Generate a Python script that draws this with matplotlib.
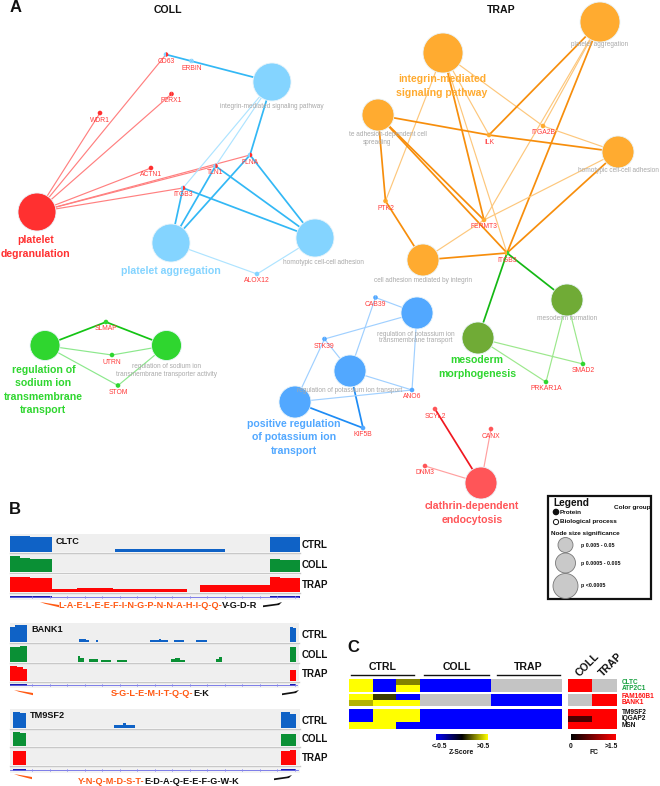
import numpy as np
import matplotlib
matplotlib.use('Agg')
import matplotlib.pyplot as plt
from matplotlib.colors import LinearSegmentedColormap
from matplotlib.patches import Circle, Rectangle, Wedge, Polygon

plt.rcParams['font.family'] = ['Liberation Sans', 'DejaVu Sans']

# Network A, terms: name -> x, y, radius, colour
RED = '#ff3030'
SKY = '#84d4ff'
ORANGE = '#ffab30'
OLIVE = '#70ab36'
LIME = '#2fd62f'
BLUE = '#52a8ff'
CORAL = '#ff5558'

terms = {
    'degran': (37, 212, 19, RED), 'coll_int': (272, 82, 19, SKY),
    'coll_agg': (171, 243, 19, SKY), 'coll_hom': (315, 238, 19, SKY),
    'trap_int': (443, 53, 20, ORANGE), 'trap_agg': (600, 22, 20, ORANGE),
    'trap_foc': (378, 115, 16, ORANGE), 'trap_hom': (618, 152, 16, ORANGE),
    'trap_cam': (423, 260, 16, ORANGE), 'meso_form': (567, 300, 16, OLIVE),
    'meso_morph': (478, 338, 16, OLIVE), 'na_a': (45, 345.5, 15, LIME),
    'na_b': (166.5, 345.5, 15, LIME), 'k_tm': (417, 313, 16, BLUE),
    'k_tr': (350, 371, 16, BLUE), 'k_pos': (295, 402, 16, BLUE),
    'clath': (481, 483, 16, CORAL),
}

# proteins: label, x, y, left colour, right colour
proteins = {
    'CD63': (166, 54.5, SKY, RED), 'ERBIN': (191.5, 61, SKY, SKY),
    'WDR1': (100, 113, RED, RED), 'P2RX1': (171.5, 94, RED, RED),
    'ACTN1': (151, 168, RED, RED), 'FLNA': (250, 155, SKY, RED),
    'TLN1': (215.5, 166, SKY, RED), 'ITGB3': (183, 188, SKY, RED),
    'ALOX12': (257, 274, SKY, SKY), 'ILK': (489, 135, ORANGE, ORANGE),
    'ITGA2B': (543, 126, ORANGE, ORANGE), 'PTK2': (385.5, 201, ORANGE, ORANGE),
    'FERMT3': (484, 220, ORANGE, ORANGE), 'ITGB3 ': (507, 253, ORANGE, LIME),
    'SMAD2': (583, 364, LIME, LIME), 'PRKAR1A': (546, 382, LIME, LIME),
    'SLMAP': (106, 322, LIME, LIME), 'UTRN': (112, 355, LIME, LIME),
    'STOM': (118, 385.5, LIME, LIME), 'CAB39': (375.5, 297.5, BLUE, BLUE),
    'STK39': (324.5, 339, BLUE, BLUE), 'ANO6': (412, 390, BLUE, BLUE),
    'KIF5B': (363, 428, BLUE, BLUE), 'SCYL2': (435, 409, CORAL, CORAL),
    'CANX': (491, 429, CORAL, CORAL), 'DNM3': (425, 466, CORAL, CORAL),
}

# edges: term, protein, strong?
edges = [
    ('degran', 'CD63', 0), ('degran', 'WDR1', 0), ('degran', 'P2RX1', 0),
    ('degran', 'ACTN1', 0), ('degran', 'FLNA', 0), ('degran', 'TLN1', 0),
    ('degran', 'ITGB3', 0),
    ('coll_int', 'CD63', 1), ('coll_int', 'FLNA', 1), ('coll_int', 'TLN1', 0),
    ('coll_int', 'ITGB3', 0), ('coll_agg', 'ITGB3', 1), ('coll_agg', 'TLN1', 1),
    ('coll_agg', 'FLNA', 1), ('coll_agg', 'ALOX12', 0), ('coll_hom', 'ALOX12', 0),
    ('coll_hom', 'ITGB3', 1), ('coll_hom', 'TLN1', 1), ('coll_hom', 'FLNA', 1),
    ('trap_int', 'FERMT3', 1), ('trap_int', 'ILK', 0), ('trap_int', 'ITGB3 ', 0),
    ('trap_int', 'ITGA2B', 0), ('trap_int', 'PTK2', 0), ('trap_agg', 'ILK', 1),
    ('trap_agg', 'ITGA2B', 0), ('trap_agg', 'FERMT3', 0), ('trap_agg', 'ITGB3 ', 1),
    ('trap_foc', 'ILK', 1), ('trap_foc', 'PTK2', 1), ('trap_foc', 'FERMT3', 1),
    ('trap_foc', 'ITGB3 ', 1), ('trap_hom', 'ILK', 1), ('trap_hom', 'ITGA2B', 0),
    ('trap_hom', 'FERMT3', 0), ('trap_hom', 'ITGB3 ', 1), ('trap_cam', 'PTK2', 1),
    ('trap_cam', 'FERMT3', 0), ('trap_cam', 'ITGB3 ', 1),
    ('meso_morph', 'ITGB3 ', 1), ('meso_form', 'ITGB3 ', 1),
    ('meso_morph', 'SMAD2', 0), ('meso_morph', 'PRKAR1A', 0),
    ('meso_form', 'SMAD2', 0), ('meso_form', 'PRKAR1A', 0),
    ('na_a', 'SLMAP', 1), ('na_b', 'SLMAP', 1), ('na_a', 'UTRN', 0),
    ('na_b', 'UTRN', 0), ('na_a', 'STOM', 0), ('na_b', 'STOM', 0),
    ('k_tm', 'CAB39', 0), ('k_tm', 'STK39', 0), ('k_tm', 'ANO6', 0),
    ('k_tr', 'CAB39', 0), ('k_tr', 'STK39', 0), ('k_tr', 'ANO6', 0),
    ('k_tr', 'KIF5B', 1), ('k_pos', 'STK39', 0), ('k_pos', 'ANO6', 0),
    ('k_pos', 'KIF5B', 1), ('clath', 'SCYL2', 1), ('clath', 'CANX', 0),
    ('clath', 'DNM3', 0),
]

edge_colours = {
    RED: ('#ff8080', '#ff8080'), SKY: ('#33b8f5', '#aee4ff'),
    ORANGE: ('#f78e0c', '#fdc77c'), OLIVE: ('#14b814', '#9ce88c'),
    LIME: ('#14c414', '#8ce88c'), BLUE: ('#1e8cf5', '#a0d0ff'),
    CORAL: ('#f01820', '#ffa0a0'),
}

grey_labels = [
    ('integrin-mediated signaling pathway', 272, 107),
    ('homotypic cell-cell adhesion', 323, 262),
    ('platelet aggregation', 600, 45),
    ('te adhesion-dependent cell', 388, 135),
    ('spreading', 377, 143),
    ('homotypic cell-cell adhesion', 618, 171),
    ('cell adhesion mediated by integrin', 423, 280),
    ('mesoderm formation', 567, 319),
    ('regulation of potassium ion', 416, 334),
    ('transmembrane transport', 416, 341),
    ('regulation of potassium ion transport', 350, 391),
    ('regulation of sodium ion', 166, 366.5),
    ('transmembrane transporter activity', 166, 374.5),
]

big_labels = [
    ('platelet\ndegranulation', 35.5, 247, RED),
    ('platelet aggregation', 171, 271.5, SKY),
    ('regulation of\nsodium ion\ntransmembrane\ntransport', 43.5, 390, LIME),
    ('positive regulation\nof potassium ion\ntransport', 294, 437.5, BLUE),
    ('integrin-mediated\nsignaling pathway', 442, 86, ORANGE),
    ('mesoderm\nmorphogenesis', 477, 367, LIME),
    ('clathrin-dependent\nendocytosis', 472, 513, CORAL),
]

# Panel B, coverage as (start, end, height)
cltc_ctrl = [(10, 30, .88), (30, 52, .85), (115, 225, .16), (270, 285, .85), (285, 300, .82)]
cltc_coll = [(10, 20, .88), (20, 30, .78), (30, 52, .72), (270, 280, .75), (280, 300, .68)]
cltc_trap = [(10, 30, .88), (30, 52, .85), (52, 77, .16), (77, 113, .25), (113, 187, .16),
             (200, 270, .39), (270, 280, .88), (280, 300, .8)]
bank_ctrl = [(10, 15, .8), (15, 27, .88), (79, 86, .17), (86, 89, .1), (96, 98, .12),
             (150, 159, .1), (159, 161, .17), (161, 168, .1), (174, 184, .1), (196, 207, .1),
             (290, 293, .8), (293, 296, .72)]
bank_coll = [(10, 20, .8), (20, 27, .85), (78, 80, .3), (80, 84, .2), (89, 98, .18), (101, 111, .12),
             (117, 127, .12), (171, 175, .15), (175, 180, .2), (180, 185, .13), (216, 219, .15),
             (219, 222, .24), (290, 296, .8)]
bank_trap = [(10, 17, .85), (17, 23, .8), (23, 27, .65), (290, 296, .6)]
tm9_ctrl = [(13, 20, .85), (20, 26, .78), (114, 123, .15), (123, 126, .25), (126, 135, .15),
            (281, 290, .82), (290, 296, .72)]
tm9_coll = [(13, 20, .85), (20, 26, .75), (281, 296, .7)]
tm9_trap = [(13, 26, .8), (281, 290, .8), (290, 296, .86)]

# Panel C, z-scores per row, nan = not quantified
z_group1 = [[.5, -.5, .25, -.5, -.5, -.5, np.nan, np.nan, np.nan],
            [.5, -.5, .5, -.5, -.5, -.5, np.nan, np.nan, np.nan]]
z_group2 = [[.5, .12, -.5, np.nan, np.nan, np.nan, -.5, -.5, -.5],
            [.35, .5, .5, np.nan, np.nan, np.nan, -.5, -.5, -.5]]
z_group3 = [[-.5, .5, .5, -.5, -.5, -.5, -.5, -.5, -.5],
            [-.5, .5, .5, -.5, -.5, -.5, -.5, -.5, -.5],
            [.5, .5, -.5, -.5, -.5, -.5, -.5, -.5, -.5]]
fc_group1 = [[1.5, np.nan], [1.5, np.nan]]
fc_group2 = [[np.nan, 1.5], [np.nan, 1.5]]
fc_group3 = [[1.5, 1.5], [.45, 1.5], [1.5, 1.5]]
genes_group1 = ['CLTC', 'ATP2C1']
genes_group2 = ['FAM160B1', 'BANK1']
genes_group3 = ['TM9SF2', 'IQGAP2', 'MSN']


def half_arrow(ax, x0, x1, y, colour, left):
    """Primer marker below a track"""
    if left:
        pts = [(x0, y - 2), (x1, y + 1), (x1, y + 3.2), (x0 + 5, y - 0.2)]
    else:
        pts = [(x0, y + 3.2), (x0, y + 1.4), (x1 - 5, y - 0.4), (x1, y - 2), (x1 - 3, y + 1)]
    ax.add_patch(Polygon(pts, closed=True, color=colour, lw=0))


def track_panel(ax, x0, x1, rows, tracks, gene_y, exons, label, label_x, label_y, row_label_x):
    colours = ['#0f62c6', '#0a9035', '#ff0505']
    names = ['CTRL', 'COLL', 'TRAP']
    for (top, base), segs, colour, name in zip(rows, tracks, colours, names):
        ax.add_patch(Rectangle((x0, top), x1 - x0, base - top, color='#efefef', lw=0))
        ax.plot([x0, x1], [base + .5, base + .5], color='#c8c8c8', lw=1)
        for start, end, h in segs:
            ax.fill_between([start, end], base, base - h * (base - top), color=colour, lw=0)
        ax.text(row_label_x, (top + base) / 2 + 2, name, fontsize=7, fontweight='bold',
                ha='left', va='center', color='#111111')
    ax.add_patch(Rectangle((x0, gene_y - 3), x1 - x0, 6, color='#f3f3f3', lw=0))
    ax.plot([x0, x1 - 2], [gene_y, gene_y], color='#6a6ae6', lw=.6)
    for tx in np.arange(x0 + 22, x1 - 2, 17.5):
        ax.plot([tx, tx], [gene_y - 1, gene_y + 1], color='#8a8aec', lw=.5)
    for a, b in exons:
        ax.add_patch(Rectangle((a, gene_y - 1.2), b - a, 2.6, color='#1a1ab0', lw=0))
    ax.text(label_x, label_y, label, fontsize=6.6, fontweight='bold', va='center', color='#111111')


def sequence(ax, x, y, orange, black):
    ax.text(x, y, orange, color='#ff5a14', fontsize=6.6, fontweight='bold', ha='right', va='center')
    ax.text(x, y, black, color='#111111', fontsize=6.6, fontweight='bold', ha='left', va='center')


def main():
    fig = plt.figure(figsize=(6.6, 7.86), dpi=100)
    ax = fig.add_axes([0, 0, 1, 1])

    # panel A
    for term, protein, strong in edges:
        tx, ty, _, colour = terms[term]
        px, py = proteins[protein][:2]
        strong_col, light_col = edge_colours[colour]
        ax.plot([tx, px], [ty, py], color=strong_col if strong else light_col,
                lw=1.25 if strong else .85, solid_capstyle='round', zorder=1)
    for x, y, r, colour in terms.values():
        ax.add_patch(Circle((x, y), r, facecolor=colour, edgecolor='#e8f4fa', lw=.6, zorder=2))
    for name, (x, y, left, right) in proteins.items():
        r = 2.3
        ax.add_patch(Wedge((x, y), r, 90, 270, color=left, lw=0, zorder=3))
        ax.add_patch(Wedge((x, y), r, 270, 90, color=right, lw=0, zorder=3))
        ax.text(x, y + 7, name.strip(), color='#ff3a3a', fontsize=4.9, ha='center', va='center', zorder=5)
    for text, x, y in grey_labels:
        ax.text(x, y, text, color='#a9a9a9', fontsize=4.7, ha='center', va='center', zorder=4)
    for text, x, y, colour in big_labels:
        ax.text(x, y, text, color=colour, fontsize=7.6, fontweight='bold', ha='center', va='center',
                linespacing=1.42, zorder=5)

    ax.text(16, 8, 'A', fontsize=12, fontweight='bold', ha='center', va='center', color='#111111')
    ax.text(168, 10, 'COLL', fontsize=7.6, fontweight='bold', ha='center', va='center', color='#111111')
    ax.text(501, 10, 'TRAP', fontsize=7.6, fontweight='bold', ha='center', va='center', color='#111111')

    # panel B
    ax.text(15, 510, 'B', fontsize=12, fontweight='bold', ha='center', va='center', color='#111111')
    track_panel(ax, 10, 300, [(534, 552), (554, 572), (575, 592)], [cltc_ctrl, cltc_coll, cltc_trap],
                597, [(10, 52), (270, 300)], 'CLTC', 56, 541, 302)
    half_arrow(ax, 40, 59, 604, '#ff5a14', True)
    half_arrow(ax, 263, 282, 604, '#111111', False)
    sequence(ax, 222, 605, 'L-A-E-L-E-E-F-I-N-G-P-N-N-A-H-I-Q-Q-', 'V-G-D-R')

    track_panel(ax, 10, 299, [(623, 642), (643, 662), (663, 681)], [bank_ctrl, bank_coll, bank_trap],
                685, [(10, 27), (290, 296)], 'BANK1', 31, 630, 302)
    half_arrow(ax, 14, 33, 692, '#ff5a14', True)
    half_arrow(ax, 282, 299, 692, '#111111', False)
    sequence(ax, 193, 694, 'S-G-L-E-M-I-T-Q-Q-', 'E-K')

    track_panel(ax, 10, 300, [(709, 728), (729, 746), (747, 765)], [tm9_ctrl, tm9_coll, tm9_trap],
                770, [(13, 26), (281, 296)], 'TM9SF2', 30, 716, 302)
    half_arrow(ax, 14, 32, 776, '#ff5a14', True)
    half_arrow(ax, 274, 292, 777, '#111111', False)
    sequence(ax, 144, 781, 'Y-N-Q-M-D-S-T-', 'E-D-A-Q-E-E-F-G-W-K')

    # legend
    ax.add_patch(Rectangle((548, 496), 103, 103, facecolor='white', edgecolor='#111111', lw=1.6))
    ax.text(553, 503, 'Legend', fontsize=7.3, fontweight='bold', va='center', color='#111111')
    ax.add_patch(Circle((556, 512), 2.6, color='#111111'))
    ax.text(560, 512, 'Protein', fontsize=4.6, fontweight='bold', va='center', color='#111111')
    ax.add_patch(Circle((556, 522), 2.6, facecolor='white', edgecolor='#111111', lw=.7))
    ax.text(560, 522, 'Biological process', fontsize=4.6, fontweight='bold', va='center', color='#111111')
    ax.text(551, 533, 'Node size significance', fontsize=4.6, fontweight='bold', va='center', color='#111111')
    ax.text(651, 508, 'Color group', fontsize=4.6, fontweight='bold', ha='right', va='center', color='#111111')
    for y, r, text in [(545, 7.5, 'p 0.005 - 0.05'), (563, 10, 'p 0.0005 - 0.005'), (586, 12.5, 'p <0.0005')]:
        ax.add_patch(Circle((565.5, y), r, facecolor='#c9c9c9', edgecolor='#777777', lw=.6))
        ax.text(581, y, text, fontsize=3.9, fontweight='bold', va='center', color='#111111')
    rainbow = LinearSegmentedColormap.from_list(
        'groups', ['#ff3020', '#ffa020', '#c8d020', '#40c040', '#10d8e0', '#2090ff', '#5050e0', '#e030e0', '#ff3080'])
    ax.imshow(np.linspace(0, 1, 128)[:, None], cmap=rainbow, extent=(629, 637, 595, 513), aspect='auto')

    # panel C
    ax.text(353, 648, 'C', fontsize=12, fontweight='bold', ha='center', va='center', color='#111111')
    z_cmap = LinearSegmentedColormap.from_list('z', ['#0000ff', '#000000', '#ffff00'])
    z_cmap.set_bad('#c4c4c4')
    fc_cmap = LinearSegmentedColormap.from_list('fc', ['#000000', '#ff0000'])
    fc_cmap.set_bad('#c4c4c4')
    blocks = [(679, 692, z_group1, fc_group1, genes_group1, '#18a040'),
              (694, 706, z_group2, fc_group2, genes_group2, '#ff1010'),
              (709, 729, z_group3, fc_group3, genes_group3, '#111111')]
    for top, bottom, zs, fcs, genes, colour in blocks:
        ax.imshow(np.array(zs), cmap=z_cmap, vmin=-.5, vmax=.5, extent=(349, 562, bottom, top),
                  aspect='auto', interpolation='nearest')
        ax.imshow(np.array(fcs), cmap=fc_cmap, vmin=0, vmax=1.5, extent=(568, 617, bottom, top),
                  aspect='auto', interpolation='nearest')
        step = (bottom - top) / len(genes)
        for i, gene in enumerate(genes):
            ax.text(622, top + step * (i + .5), gene, color=colour, fontsize=4.7, fontweight='bold', va='center')

    for name, a, b in [('CTRL', 351, 414), ('COLL', 424, 489), ('TRAP', 497, 560)]:
        ax.plot([a, b], [675, 675], color='#111111', lw=1)
        ax.text((a + b) / 2, 667, name, fontsize=7.6, fontweight='bold', ha='center', va='center', color='#111111')
    ax.text(588, 665, 'COLL', fontsize=7.6, fontweight='bold', rotation=45, ha='center', va='center', color='#111111')
    ax.text(611, 665, 'TRAP', fontsize=7.6, fontweight='bold', rotation=45, ha='center', va='center', color='#111111')

    ax.imshow(np.linspace(-.5, .5, 128)[None, :], cmap=z_cmap, extent=(436, 488, 740, 734), aspect='auto')
    ax.imshow(np.linspace(0, 1.5, 128)[None, :], cmap=fc_cmap, extent=(571, 616, 740, 734), aspect='auto')
    for text, x, y in [('<-0.5', 440, 746), ('>0.5', 483, 746), ('Z-Score', 461, 752),
                       ('0', 571, 746), ('>1.5', 611, 746), ('FC', 594, 752)]:
        ax.text(x, y, text, fontsize=4.9, fontweight='bold', ha='center', va='center', color='#111111')

    ax.set_xlim(0, 660)
    ax.set_ylim(786, 0)
    ax.axis('off')
    fig.savefig('out.png', dpi=100)


main()
